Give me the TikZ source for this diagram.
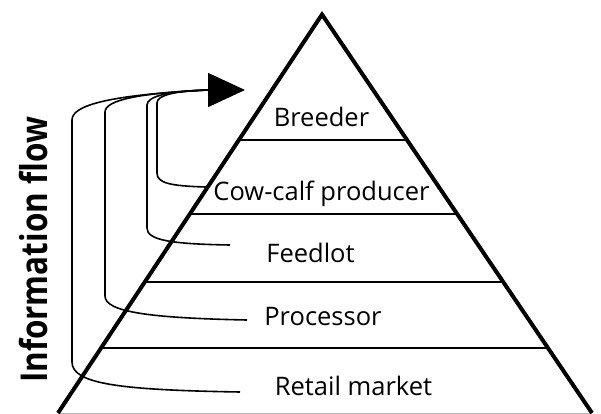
\documentclass[tikz,border=0pt]{standalone}
\usepackage{fontspec}
\setmainfont{Open Sans}
\usetikzlibrary{arrows.meta}
\begin{document}
\begin{tikzpicture}[x=1pt,y=-1pt,
  edge/.style={line width=4pt,line join=miter},
  tier/.style={line width=1.5pt},
  flow/.style={line width=1.6pt},
  lbl/.style={anchor=base,inner sep=0pt,font=\fontsize{25.5}{30}\selectfont}]
\useasboundingbox (0,0) rectangle (601,414);
% pyramid
\coordinate (apex) at (322,14.5);
\coordinate (bl) at (58,413);
\coordinate (br) at (592,413);
\draw[gray!60,line width=1pt] (bl) -- (br);
\draw[edge] (bl) -- (apex) -- (br);
% tier lines
\coordinate (t1l) at (239,140); \coordinate (t1r) at (407,140);
\coordinate (t2l) at (190,214); \coordinate (t2r) at (457,214);
\coordinate (t3l) at (145,282); \coordinate (t3r) at (503,282);
\coordinate (t4l) at (102,348); \coordinate (t4r) at (548,348);
\draw[tier] (t1l) -- (t1r);
\draw[tier] (t2l) -- (t2r);
\draw[tier] (t3l) -- (t3r);
\draw[tier] (t4l) -- (t4r);
% labels
\node[lbl] (breeder) at (321.5,127) {Breeder};
\node[lbl] (cowcalf) at (321.5,200) {Cow-calf producer};
\node[lbl] (feedlot) at (310.5,262) {Feedlot};
\node[lbl] (processor) at (323,325) {Processor};
\node[lbl] (retail) at (353.5,395) {Retail market};
\node[rotate=90,anchor=base,inner sep=0pt,font=\fontsize{37}{40}\selectfont\bfseries] (info) at (47,250) {\scalebox{0.85}[1]{Information flow}};
% information flow connectors
\coordinate (merge) at (208,90);
\coordinate (tip) at (245,90);
\coordinate (cs) at (206,187);
\coordinate (fs) at (230,245);
\coordinate (ps) at (247,320);
\coordinate (rs) at (240,392);
\draw[flow] (cs) .. controls (170,186) and (157,183) .. (157,173) -- (157,103) .. controls (157,95) and (175,91) .. (merge);
\draw[flow] (fs) .. controls (170,244) and (147,240) .. (147,228) -- (147,105) .. controls (147,96) and (170,91) .. (merge);
\draw[flow] (ps) .. controls (150,318) and (105,312) .. (105,296) -- (105,112) .. controls (105,100) and (140,93) .. (merge);
\draw[flow] (rs) .. controls (120,390) and (72,384) .. (72,362) -- (72,120) .. controls (72,105) and (110,95) .. (merge);
\draw[flow,-{Triangle[length=37pt,width=34pt]}] (merge) -- (tip);
\end{tikzpicture}
\end{document}
